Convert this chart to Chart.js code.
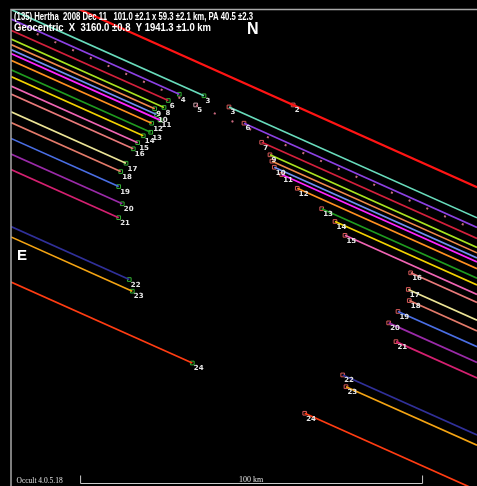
<!DOCTYPE html>
<html>
<head>
<meta charset="utf-8">
<script src="https://cdn.jsdelivr.net/npm/chart.js@4/dist/chart.umd.min.js"></script>
<style>
  html, body { margin: 0; padding: 0; background: #000; overflow: hidden; }
  #wrap { width: 477px; height: 486px; position: relative; }
</style>
</head>
<body>
<div id="wrap"><canvas id="plot"></canvas></div>
<script>
// Occultation chords of (135) Hertha, 2008 Dec 11, in km on the sky plane.
// Each chord: offset = y at the west edge, D = disappearance x, R = reappearance x.
const chordIds   = ['2', '3', '4', '6', '8', '9', '10', '11', '12', '13', '14', '15', '16', '17', '18', '19', '20', '21', '22', '23', '24'];
const chordOffset = [-8.98, 0.00, 2.78, 6.05, 8.63, 10.23, 11.70, 12.87, 14.85, 17.63, 19.62, 22.37, 24.74, 29.91, 33.04, 37.69, 42.25, 46.78, 63.48, 66.49, 79.65];
const chordD      = [82.50, 56.43, 49.21, 45.99, 44.74, 42.02, 42.54, 43.57, 41.14, 40.85, 38.68, 37.05, 35.76, 33.63, 32.08, 31.49, 32.54, 31.49, 34.59, 35.47, 53.01];
const chordR      = [82.50, 63.74, 68.13, 73.30, 75.73, 76.30, 76.99, 79.15, 83.71, 90.85, 94.74, 97.66, 116.87, 116.17, 116.46, 113.16, 110.44, 112.57, 96.99, 97.95, 85.88];
const labelD      = ['', '3', '4', '6', '8', '9', '10', '11', '12', '13', '14', '15', '16', '17', '18', '19', '20', '21', '22', '23', '24'];
const labelR      = ['2', '3', '6', '7', '9', '', '10', '11', '12', '13', '14', '15', '16', '17', '18', '19', '20', '21', '22', '23', '24'];

// Visual-only chord (dotted path) with its single timing mark
const visualOffset = 3.77;
const visualMark = 54.0;
const visualLabel = '5';

// Shared chord direction (dy/dx on the sky plane)
const SLOPE = 0.447;
// Scale bar, km
const scaleBarStart = 20.2;
const scaleBarLength = 100;

const chordColors = ['#ff1414', '#68dcbc', '#8c40e4', '#d4203c', '#a8e41e', '#f08a4a', '#6f8ff0', '#ff22ff',
  '#ff9020', '#1f9a1f', '#f2d200', '#f064b4', '#ea7a7a', '#ece496', '#e47a6a', '#4a6ee4', '#9a2aa8',
  '#d42070', '#30309a', '#f4a412', '#ff3c12'];

const X_MAX = 136.26;
const Y_MAX = 139.3;

const yAt = (off, x) => off + SLOPE * x;

const datasets = [];
chordIds.forEach((id, i) => {
  const off = chordOffset[i];
  const base = { showLine: true, borderColor: chordColors[i], borderWidth: i === 0 ? 2.2 : 1.7,
                 pointRadius: 0, fill: false, clip: 0 };
  if (chordD[i] === chordR[i]) {
    datasets.push({ ...base, data: [{ x: 0, y: yAt(off, 0) }, { x: X_MAX, y: yAt(off, X_MAX) }] });
  } else {
    datasets.push({ ...base, data: [{ x: 0, y: yAt(off, 0) }, { x: chordD[i], y: yAt(off, chordD[i]) }] });
    datasets.push({ ...base, data: [{ x: chordR[i], y: yAt(off, chordR[i]) }, { x: X_MAX, y: yAt(off, X_MAX) }] });
  }
});

// dotted visual path
datasets.push({
  showLine: true, borderColor: '#c8687e', borderWidth: 2, borderDash: [2, 17.4], borderDashOffset: 10.6,
  borderCapStyle: 'butt', pointRadius: 0, clip: 0,
  data: [{ x: 0, y: yAt(visualOffset, 0) }, { x: X_MAX, y: yAt(visualOffset, X_MAX) }]
});

// disappearance marks
datasets.push({
  showLine: false, pointStyle: 'rect', pointRadius: 2.6, borderWidth: 1, borderColor: '#34b034',
  backgroundColor: 'rgba(0,0,0,0)', clip: 0,
  data: chordIds.map((id, i) => chordD[i] === chordR[i] ? null : { x: chordD[i], y: yAt(chordOffset[i], chordD[i]) }).filter(Boolean)
});
// reappearance marks
datasets.push({
  showLine: false, pointStyle: 'rect', pointRadius: 2.6, borderWidth: 1, borderColor: '#d85a5a',
  backgroundColor: 'rgba(0,0,0,0)', clip: 0,
  data: chordIds.map((id, i) => ({ x: chordR[i], y: yAt(chordOffset[i], chordR[i]) }))
});
// visual timing mark
datasets.push({
  showLine: false, pointStyle: 'rect', pointRadius: 2.6, borderWidth: 1, borderColor: '#c8a2aa',
  backgroundColor: 'rgba(0,0,0,0)', clip: 0,
  data: [{ x: visualMark, y: yAt(visualOffset, visualMark) }]
});

function fitText(ctx, text, x, y, width) {
  const w = ctx.measureText(text).width;
  ctx.save();
  ctx.translate(x, y);
  ctx.scale(width / w, 1);
  ctx.fillText(text, 0, 0);
  ctx.restore();
}

const overlay = {
  id: 'overlay',
  afterDatasetsDraw(chart) {
    const { ctx, chartArea: a, scales: { x, y } } = chart;
    ctx.save();

    // frame
    ctx.strokeStyle = '#a8a8a8';
    ctx.lineWidth = 1.5;
    ctx.beginPath();
    ctx.moveTo(a.left, a.bottom + 2);
    ctx.lineTo(a.left, a.top);
    ctx.lineTo(a.right + 2, a.top);
    ctx.stroke();

    // chord numbers
    ctx.fillStyle = '#e6e6e6';
    ctx.font = 'bold 7px "DejaVu Sans", sans-serif';
    ctx.textBaseline = 'middle';
    ctx.textAlign = 'left';
    chordIds.forEach((id, i) => {
      const off = chordOffset[i];
      if (labelD[i] && chordD[i] !== chordR[i]) {
        ctx.fillText(labelD[i], x.getPixelForValue(chordD[i]) + 1.5, y.getPixelForValue(yAt(off, chordD[i])) + 5.5);
      }
      if (labelR[i]) {
        ctx.fillText(labelR[i], x.getPixelForValue(chordR[i]) + 1.5, y.getPixelForValue(yAt(off, chordR[i])) + 5.5);
      }
    });
    ctx.fillText(visualLabel, x.getPixelForValue(visualMark) + 1.5, y.getPixelForValue(yAt(visualOffset, visualMark)) + 5.5);

    // heading
    ctx.fillStyle = '#ffffff';
    ctx.textBaseline = 'alphabetic';
    ctx.font = 'bold 10px "Liberation Sans", Arial, sans-serif';
    fitText(ctx, '(135) Hertha  2008 Dec 11   101.0 \u00b12.1 x 59.3 \u00b12.1 km, PA 40.5 \u00b12.3', 14, 20, 239);
    fitText(ctx, 'Geocentric  X  3160.0 \u00b10.8  Y 1941.3 \u00b11.0 km', 14, 31, 197);

    // compass letters
    ctx.font = 'bold 16px "Liberation Sans", Arial, sans-serif';
    ctx.fillText('N', 247, 34);
    ctx.font = 'bold 15px "Liberation Sans", Arial, sans-serif';
    ctx.fillText('E', 17, 260);

    // scale bar
    const x0 = x.getPixelForValue(scaleBarStart);
    const x1 = x.getPixelForValue(scaleBarStart + scaleBarLength);
    const yb = 483.5;
    ctx.strokeStyle = '#c8c8c8';
    ctx.lineWidth = 1;
    ctx.beginPath();
    ctx.moveTo(x0 + 0.5, yb - 8);
    ctx.lineTo(x0 + 0.5, yb);
    ctx.lineTo(x1 + 0.5, yb);
    ctx.lineTo(x1 + 0.5, yb - 8);
    ctx.stroke();
    ctx.fillStyle = '#e0e0e0';
    ctx.font = '8px "Liberation Serif", "Times New Roman", serif';
    ctx.textAlign = 'center';
    ctx.fillText(scaleBarLength + ' km', (x0 + x1) / 2, 482);
    ctx.textAlign = 'left';
    ctx.font = '7.5px "Liberation Serif", "Times New Roman", serif';
    ctx.fillText('Occult 4.0.5.18', 16.5, 482.5);

    ctx.restore();
  }
};

new Chart(document.getElementById('plot'), {
  type: 'scatter',
  data: { datasets },
  options: {
    responsive: true,
    maintainAspectRatio: false,
    animation: false,
    events: [],
    layout: { autoPadding: false, padding: { left: 11, top: 9.5, right: 0, bottom: 0 } },
    plugins: { legend: { display: false }, tooltip: { enabled: false } },
    scales: {
      x: { type: 'linear', display: false, min: 0, max: X_MAX },
      y: { type: 'linear', display: false, min: 0, max: Y_MAX, reverse: true }
    }
  },
  plugins: [overlay, {
    id: 'bg',
    beforeDraw(chart) {
      const c = chart.ctx;
      c.save();
      c.fillStyle = '#000';
      c.fillRect(0, 0, chart.width, chart.height);
      c.restore();
    }
  }]
});
</script>
</body>
</html>
